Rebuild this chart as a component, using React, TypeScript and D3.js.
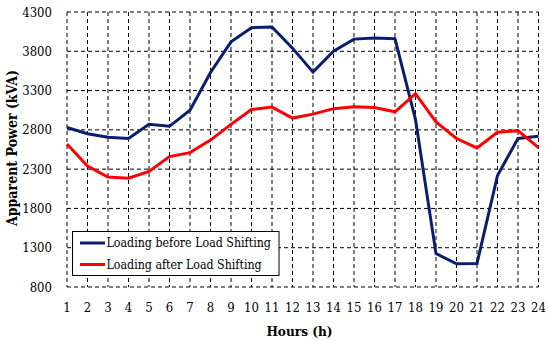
import React from "react";
import * as d3 from "d3";

const hours = d3.range(1, 25);
const yTicks = [800, 1300, 1800, 2300, 2800, 3300, 3800, 4300];
const before = [2830, 2750, 2705, 2690, 2870, 2845, 3050, 3530, 3920, 4100, 4110, 3840, 3535, 3800, 3955, 3970, 3960, 2930, 1225, 1095, 1100, 2220, 2690, 2720];
const after = [2620, 2340, 2200, 2185, 2270, 2460, 2510, 2670, 2870, 3060, 3090, 2950, 3000, 3070, 3095, 3085, 3030, 3260, 2900, 2690, 2570, 2770, 2790, 2575];
const seriesNames = ["Loading before Load Shifting", "Loading after Load Shifting"];
const colors = ["#0a1f6b", "#ff0000"];

export default function App() {
  const W = 550, H = 341;
  const m = { l: 67, r: 538.5, t: 12, b: 287 };
  const x = d3.scaleLinear().domain([1, 24]).range([m.l, m.r]);
  const y = d3.scaleLinear().domain([800, 4300]).range([m.b, m.t]);
  const line = d3.line<number>().x((_, i) => x(hours[i])).y((d) => y(d));
  const fs = { fontFamily: '"DejaVu Serif Condensed", "DejaVu Serif"' };
  const dash = "4,3";
  return (
    <svg width={W} height={H} style={{ position: "absolute", left: 0, top: 0, background: "#fff" }}>
      <g>
        {hours.map((h) => (
          <line key={"vx" + h} x1={x(h)} x2={x(h)} y1={m.t} y2={m.b} stroke="#000" strokeWidth={1} strokeDasharray={dash} />
        ))}
        {yTicks.map((v) => (
          <line key={"hy" + v} x1={m.l} x2={m.r} y1={y(v)} y2={y(v)} stroke="#000" strokeWidth={1} strokeDasharray={dash} />
        ))}
      </g>
      <path d={line(before) || ""} fill="none" stroke={colors[0]} strokeWidth={3} strokeLinejoin="miter" />
      <path d={line(after) || ""} fill="none" stroke={colors[1]} strokeWidth={3} strokeLinejoin="miter" />
      {yTicks.map((v) => (
        <text key={"yt" + v} x={52} y={y(v)} dy="0.35em" textAnchor="end" style={fs} fontSize={13} fill="#000">{v}</text>
      ))}
      {hours.map((h) => (
        <text key={"xt" + h} x={x(h)} y={307} dy="0.35em" textAnchor="middle" style={fs} fontSize={13} fill="#000">{h}</text>
      ))}
      <text x={299.5} y={331} dy="0.35em" textAnchor="middle" style={fs} fontSize={13.5} fontWeight="bold" fill="#000">Hours (h)</text>
      <text transform={`translate(12,148) rotate(-90)`} dy="0.35em" textAnchor="middle" style={fs} fontSize={14} fontWeight="bold" fill="#000">Apparent Power (kVA)</text>
      <g>
        <rect x={72.5} y={231.5} width={206.5} height={44} fill="#fff" stroke="#000" strokeWidth={1} />
        {seriesNames.map((n, i) => (
          <g key={n}>
            <line x1={80} x2={105} y1={243 + i * 21.5} y2={243 + i * 21.5} stroke={colors[i]} strokeWidth={3} />
            <text x={106.5} y={243 + i * 21.5} dy="0.35em" style={fs} fontSize={12.3} fill="#000">{n}</text>
          </g>
        ))}
      </g>
    </svg>
  );
}
